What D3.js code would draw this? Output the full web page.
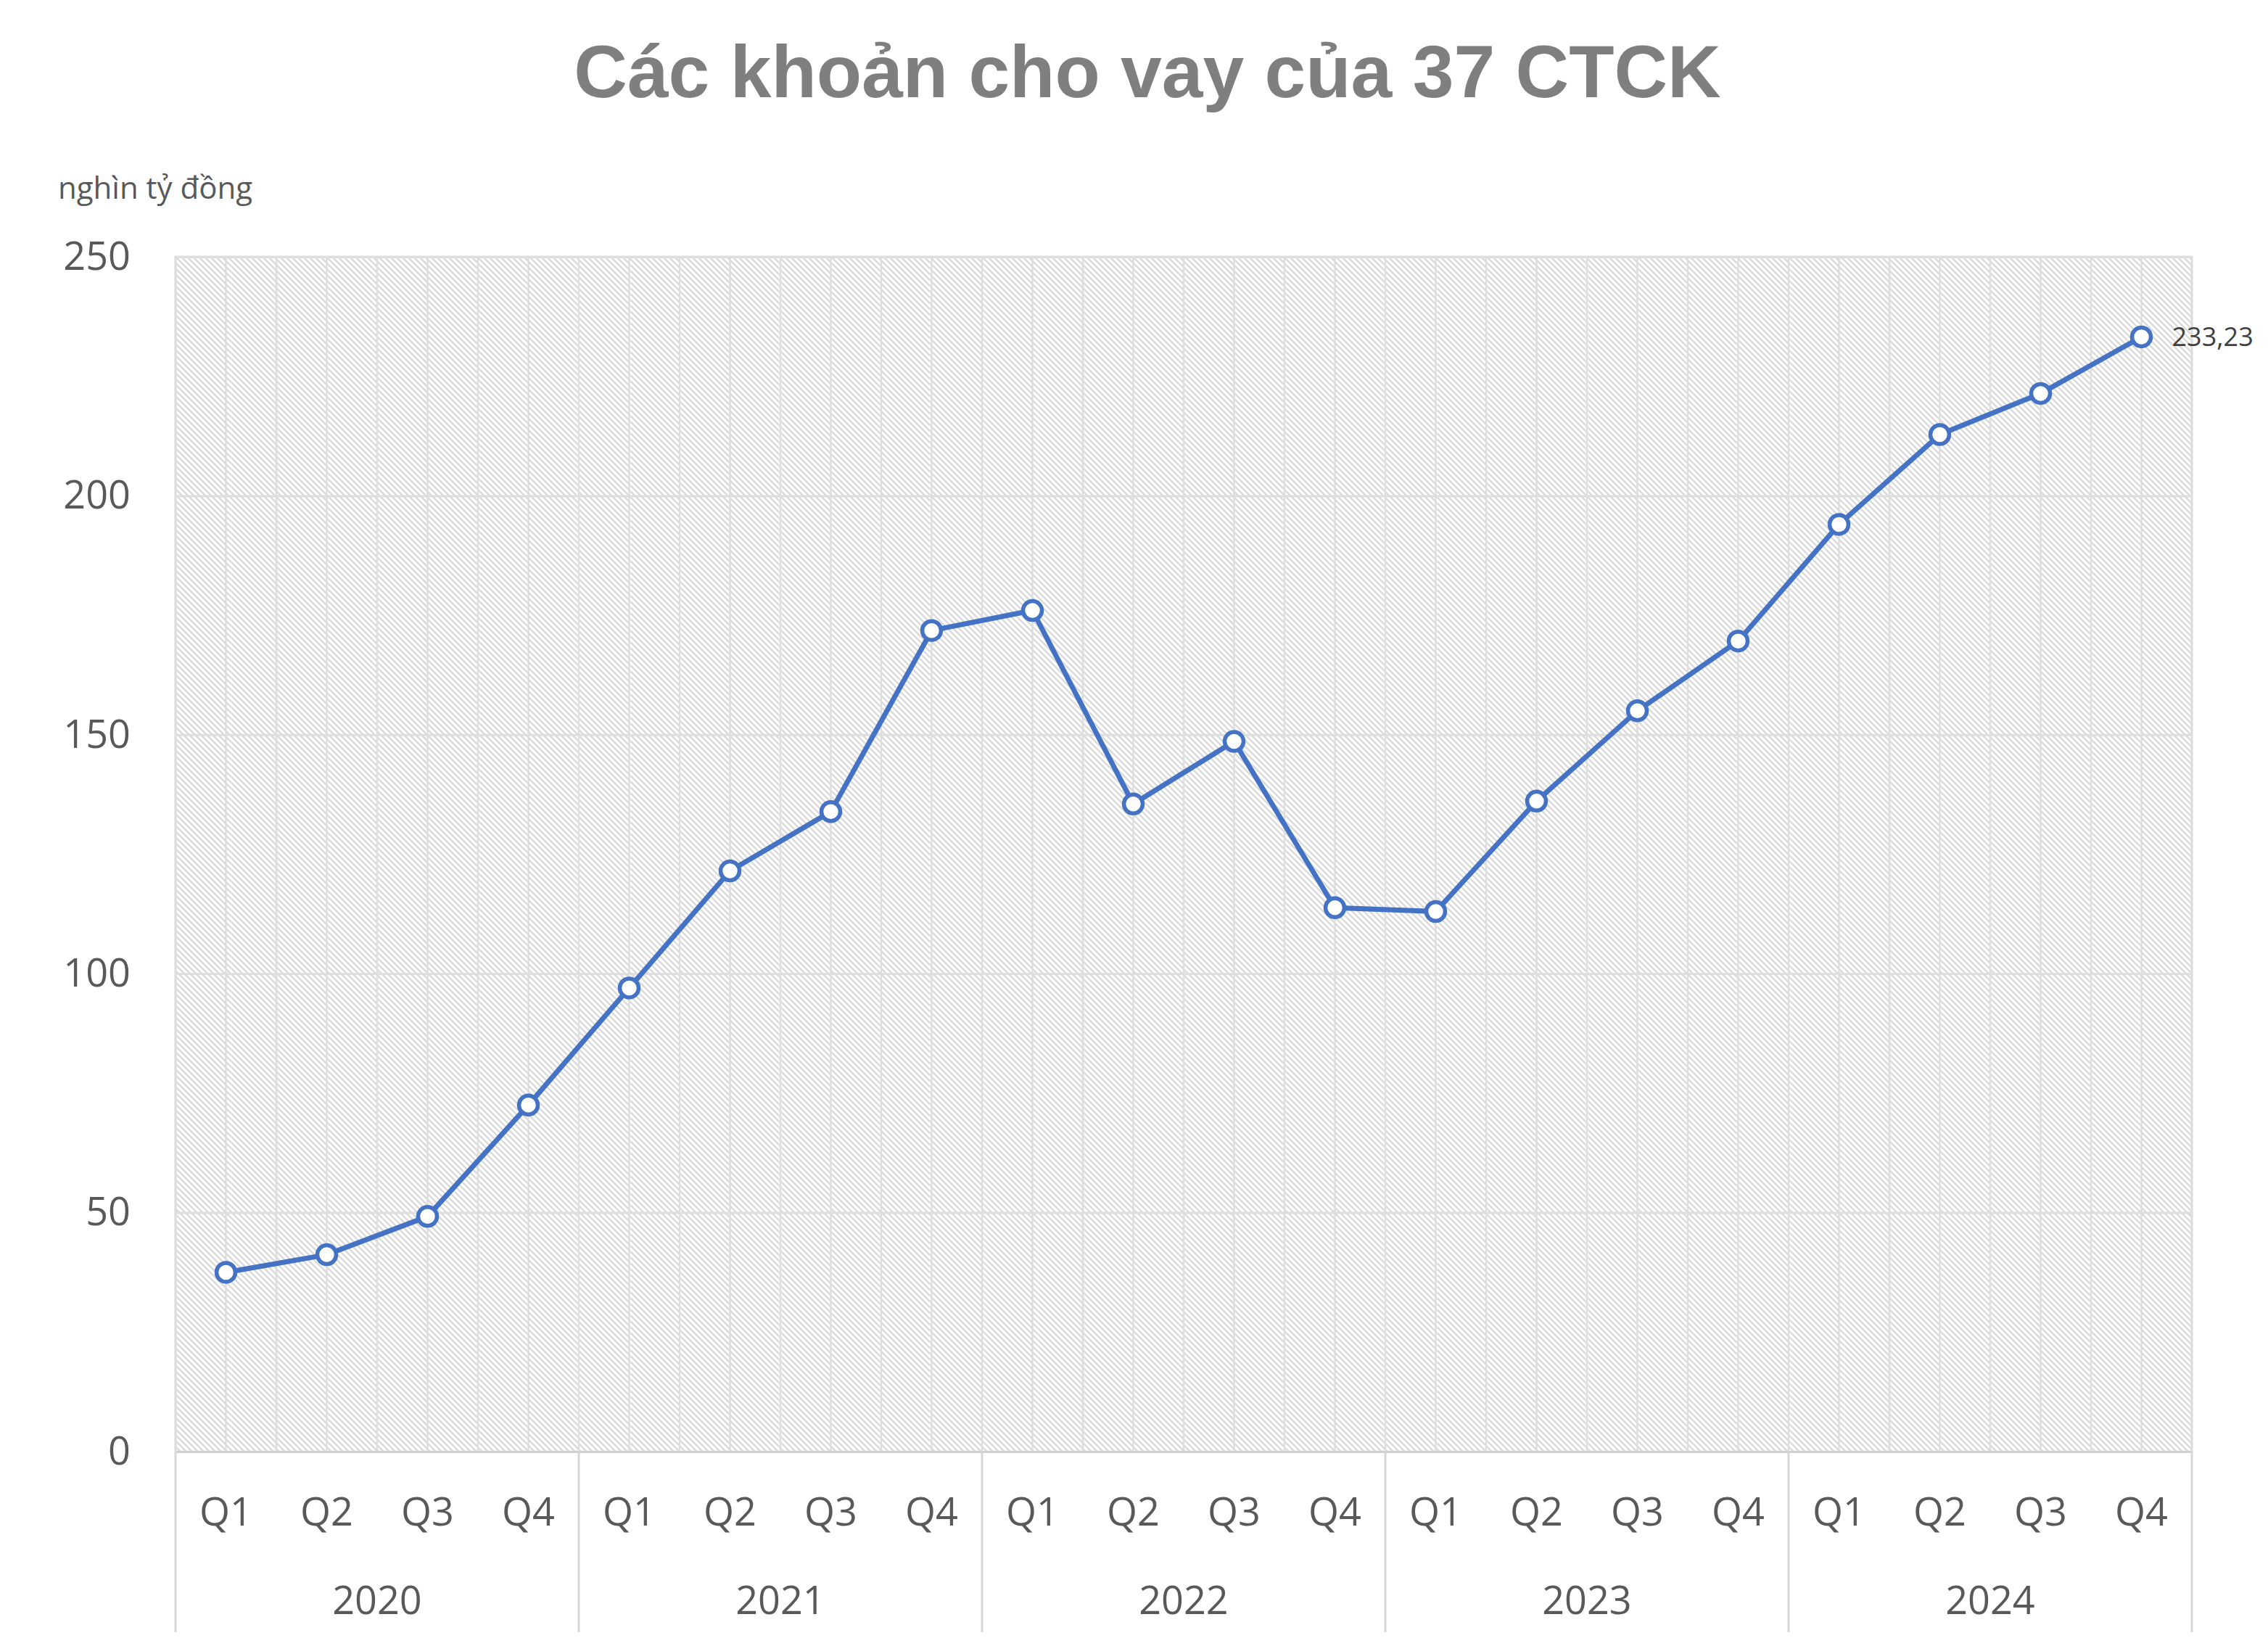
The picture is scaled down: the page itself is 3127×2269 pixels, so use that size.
<!DOCTYPE html>
<html>
<head>
<meta charset="utf-8">
<script src="https://cdn.jsdelivr.net/npm/d3@7"></script>
<style>
  html, body { margin: 0; padding: 0; background: #fff; }
</style>
</head>
<body>
<div id="chart"></div>
<script>
// data (nghìn tỷ đồng)
const years = ["2020", "2021", "2022", "2023", "2024"];
const quarters = ["Q1", "Q2", "Q3", "Q4"];
const loans = [
  37.5, 41.2, 49.2, 72.5,
  97.0, 121.5, 133.9, 171.8,
  176.0, 135.5, 148.6, 113.8,
  113.0, 136.1, 155.0, 169.6,
  194.0, 212.8, 221.4, 233.23
];
const yTicks = [0, 50, 100, 150, 200, 250];
const titleText = "Các khoản cho vay của 37 CTCK";
const unitText = "nghìn tỷ đồng";

const W = 3127, H = 2269;
const margin = { top: 354, right: 105, bottom: 268, left: 242 };
const plotW = W - margin.left - margin.right;
const plotH = H - margin.top - margin.bottom;

const gridColor = "#dedede";
const textColor = "#595959";
const lineColor = "#4472C4";
const font = "'Segoe UI', 'Open Sans', 'Noto Sans', sans-serif";

// one key per quarter
const keys = [];
years.forEach(y => quarters.forEach(q => keys.push(y + "-" + q)));
const points = keys.map((k, i) => ({ key: k, year: k.split("-")[0], q: k.split("-")[1], value: loans[i] }));

const x = d3.scaleBand().domain(keys).range([0, plotW]).padding(0);
const y = d3.scaleLinear().domain([0, 250]).range([plotH, 0]);
const vn = d3.formatLocale({ decimal: ",", thousands: ".", grouping: [3], currency: ["", ""] });
const fmt = vn.format(".2f");

const svg = d3.select("#chart")
  .append("svg")
  .attr("width", W)
  .attr("height", H)
  .style("font-family", font);

// hatch fill for plot area
const defs = svg.append("defs");
const pat = defs.append("pattern")
  .attr("id", "hatch")
  .attr("patternUnits", "userSpaceOnUse")
  .attr("width", 8)
  .attr("height", 8);
pat.append("rect").attr("width", 8).attr("height", 8).attr("fill", "#ffffff");
pat.append("path")
  .attr("d", "M-2,-2 L10,10 M-2,6 L2,10 M6,-2 L10,2")
  .attr("stroke", "#dadada")
  .attr("stroke-width", 2.3);

// title
svg.append("text")
  .attr("x", 1582)
  .attr("y", 134)
  .attr("text-anchor", "middle")
  .style("font-family", "'Liberation Sans', Arial, sans-serif")
  .style("font-weight", "bold")
  .style("font-size", "102px")
  .attr("fill", "#7f7f7f")
  .text(titleText);

// unit
svg.append("text")
  .attr("x", 80)
  .attr("y", 274)
  .style("font-size", "42px")
  .attr("fill", textColor)
  .text(unitText);

const g = svg.append("g").attr("transform", `translate(${margin.left},${margin.top})`);

g.append("rect")
  .attr("width", plotW)
  .attr("height", plotH)
  .attr("fill", "url(#hatch)");

// vertical gridlines at every band edge and centre
const vLines = [];
keys.forEach(k => { vLines.push(x(k)); vLines.push(x(k) + x.bandwidth() / 2); });
vLines.push(plotW);
g.append("g").selectAll("line").data(vLines).join("line")
  .attr("x1", d => d).attr("x2", d => d)
  .attr("y1", 0).attr("y2", plotH)
  .attr("stroke", gridColor)
  .attr("stroke-width", 2.5);

// y axis and horizontal grid
const yAxis = g.append("g")
  .call(d3.axisLeft(y).tickValues(yTicks).tickSize(-plotW).tickPadding(62));
yAxis.select(".domain").remove();
yAxis.selectAll(".tick line").attr("stroke", gridColor).attr("stroke-width", 3);
yAxis.selectAll(".tick text")
  .attr("fill", textColor)
  .style("font-family", font)
  .style("font-size", "54px");

// plot border
g.append("rect")
  .attr("width", plotW)
  .attr("height", plotH)
  .attr("fill", "none")
  .attr("stroke", gridColor)
  .attr("stroke-width", 3);

// category axis: quarter labels
const xAxis = g.append("g")
  .attr("transform", `translate(0,${plotH})`)
  .call(d3.axisBottom(x).tickSize(0).tickPadding(64).tickFormat(k => k.split("-")[1]));
xAxis.select(".domain").attr("stroke", "#d0d0d0").attr("stroke-width", 3);
xAxis.selectAll(".tick text")
  .attr("fill", textColor)
  .style("font-family", font)
  .style("font-size", "54px");

// year group separators and labels
const yearStart = yr => x(yr + "-Q1");
const seps = years.map(yearStart).concat([plotW]);
g.append("g").selectAll("line").data(seps).join("line")
  .attr("x1", d => d).attr("x2", d => d)
  .attr("y1", plotH).attr("y2", plotH + 249)
  .attr("stroke", "#d6d6d6")
  .attr("stroke-width", 3);

g.append("g").selectAll("text").data(years).join("text")
  .attr("x", yr => yearStart(yr) + x.bandwidth() * 2)
  .attr("y", plotH + 205)
  .attr("dy", "0.35em")
  .attr("text-anchor", "middle")
  .attr("fill", textColor)
  .style("font-size", "54px")
  .text(yr => yr);

// series line
const line = d3.line()
  .x(d => x(d.key) + x.bandwidth() / 2)
  .y(d => y(d.value));

g.append("path")
  .datum(points)
  .attr("d", line)
  .attr("fill", "none")
  .attr("stroke", lineColor)
  .attr("stroke-width", 7)
  .attr("stroke-linejoin", "round");

g.append("g").selectAll("circle").data(points).join("circle")
  .attr("cx", d => x(d.key) + x.bandwidth() / 2)
  .attr("cy", d => y(d.value))
  .attr("r", 13)
  .attr("fill", "#ffffff")
  .attr("stroke", lineColor)
  .attr("stroke-width", 5.5);

// label on last point
const last = points[points.length - 1];
g.append("text")
  .attr("x", x(last.key) + x.bandwidth() / 2 + 42)
  .attr("y", y(last.value))
  .attr("dy", "0.35em")
  .attr("fill", "#404040")
  .style("font-size", "36px")
  .text(fmt(last.value));
</script>
</body>
</html>
